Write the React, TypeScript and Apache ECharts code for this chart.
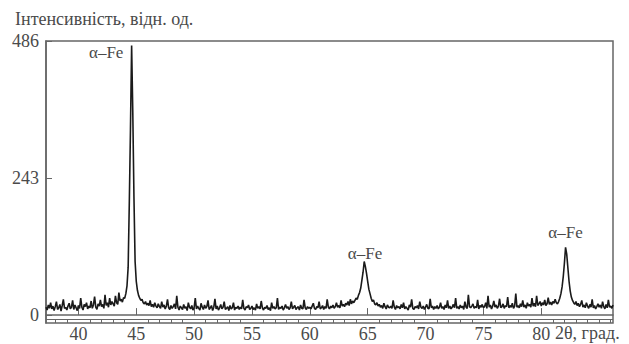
import React, { useEffect, useRef } from "react";
import * as echarts from "echarts";

const TWO_THETA_START = 37.2;
const TWO_THETA_STEP = 0.1;
const INTENSITY: number[] = [
  // 37.2 – 37.9
  14, 9, 18, 12, 22, 11, 16, 8,
  // 38
  15, 24, 10, 13, 19, 7, 17, 28, 12, 14,
  // 39
  9, 16, 21, 11, 14, 26, 10, 18, 13, 8,
  // 40
  17, 12, 30, 14, 9, 19, 15, 22, 11, 16,
  // 41
  13, 25, 12, 18, 33, 14, 10, 20, 16, 27,
  // 42
  15, 19, 12, 36, 17, 22, 14, 30, 18, 24,
  // 43
  20, 16, 34, 22, 19, 40, 25, 28, 23, 31,
  // 44
  30, 38, 52, 85, 200, 330, 478, 360, 210, 95,
  // 45
  60, 44, 35, 30, 26, 28, 22, 20, 24, 18,
  // 46
  21, 17, 26, 15, 19, 14, 22, 16, 13, 20,
  // 47
  15, 12, 24, 14, 18, 11, 16, 28, 13, 10,
  // 48
  17, 12, 15, 20, 11, 34, 14, 9, 16, 13,
  // 49
  10, 19, 12, 15, 8, 22, 14, 11, 17, 9,
  // 50
  13, 30, 11, 16, 12, 9, 21, 14, 10, 18,
  // 51
  12, 15, 26, 10, 13, 17, 8, 14, 29, 11,
  // 52
  16, 9, 13, 19, 11, 14, 24, 10, 12, 15,
  // 53
  8, 17, 11, 13, 22, 9, 14, 12, 16, 10,
  // 54
  14, 11, 27, 12, 9, 15, 13, 18, 10, 12,
  // 55
  16, 10, 13, 9, 20, 12, 15, 11, 25, 13,
  // 56
  9, 14, 12, 17, 10, 13, 8, 22, 12, 15,
  // 57
  11, 13, 30, 10, 14, 12, 16, 9, 13, 19,
  // 58
  12, 15, 10, 13, 24, 11, 14, 17, 10, 13,
  // 59
  15, 9, 18, 12, 11, 27, 13, 10, 15, 12,
  // 60
  14, 11, 16, 21, 12, 10, 15, 13, 24, 11,
  // 61
  13, 17, 10, 15, 12, 28, 14, 11, 16, 13,
  // 62
  18, 12, 15, 22, 14, 17, 13, 26, 16, 19,
  // 63
  15, 21, 18, 24, 17, 28, 20, 25, 22, 26,
  // 64
  30, 28, 35, 40, 48, 62, 76, 95, 86, 74,
  // 65
  60, 46, 38, 30, 24, 27, 20, 18, 22, 16,
  // 66
  19, 14, 17, 12, 21, 15, 11, 18, 14, 13,
  // 67
  16, 12, 26, 14, 10, 17, 13, 15, 11, 19,
  // 68
  13, 22, 11, 15, 12, 9, 18, 14, 28, 12,
  // 69
  10, 15, 13, 17, 11, 24, 14, 12, 16, 10,
  // 70
  14, 19, 12, 11, 29, 13, 16, 10, 15, 12,
  // 71
  17, 11, 14, 22, 12, 15, 10, 18, 13, 26,
  // 72
  12, 16, 11, 14, 19, 13, 30, 12, 15, 11,
  // 73
  18, 13, 16, 10, 24, 14, 12, 36, 15, 13,
  // 74
  16, 20, 12, 15, 13, 27, 11, 17, 14, 19,
  // 75
  13, 15, 22, 12, 34, 14, 18, 11, 16, 25,
  // 76
  14, 18, 12, 16, 29, 13, 15, 20, 12, 17,
  // 77
  15, 32, 13, 17, 14, 21, 12, 16, 38, 14,
  // 78
  17, 13, 20, 15, 26, 14, 18, 12, 22, 16,
  // 79
  19, 14, 30, 16, 21, 15, 34, 17, 20, 24,
  // 80
  16, 22, 18, 27, 17, 20, 31, 19, 23, 18,
  // 81
  24, 21, 28, 22, 20, 24, 30, 38, 50, 68,
  // 82
  92, 120, 108, 84, 60, 43, 32, 26, 22, 19,
  // 83
  24, 17, 21, 15, 19, 26, 14, 18, 13, 22,
  // 84
  16, 12, 19, 14, 28, 13, 17, 11, 15, 20,
  // 85
  14, 18, 12, 24, 15, 11, 19, 13, 27, 14,
  // 86.0 – 86.2
  16, 12, 18,
];

const X_TICKS = [40, 45, 50, 55, 60, 65, 70, 75, 80];
const X_MINOR_TICKS = [
  38, 39, 41, 42, 43, 44, 46, 47, 48, 49, 51, 52, 53, 54, 56, 57, 58, 59, 61,
  62, 63, 64, 66, 67, 68, 69, 71, 72, 73, 74, 76, 77, 78, 79, 81, 82, 83, 84,
  85, 86,
];
const Y_TICKS = [0, 243, 486];

const PEAK_LABEL = "α–Fe";
const PEAK_LABEL_POS: [number, number][] = [
  [42.4, 466],
  [64.77, 110],
  [82.1, 146],
];

const Y_TITLE = "Інтенсивність, відн. од.";
const X_TITLE = "2θ, град.";

const FONT = '"Liberation Serif", "DejaVu Serif", serif';
const TEXT_COLOR = "#4a4a4a";
const FRAME_COLOR = "#666";

export default function App() {
  const ref = useRef<HTMLDivElement>(null);

  useEffect(() => {
    if (!ref.current) return;
    const chart = echarts.init(ref.current, null, { renderer: "svg" });

    const data = INTENSITY.map((v, i) => [
      +(TWO_THETA_START + i * TWO_THETA_STEP).toFixed(2),
      v,
    ]);

    const xMin = 37.2;
    const xMax = 86.2;
    const yMin = -14;
    const yMax = 486;

    chart.setOption({
      animation: false,
      backgroundColor: "#fff",
      textStyle: { fontFamily: FONT },
      title: {
        text: Y_TITLE,
        left: 10,
        top: 5,
        textStyle: {
          fontFamily: FONT,
          fontSize: 18,
          fontWeight: "normal",
          color: TEXT_COLOR,
        },
      },
      graphic: [
        {
          type: "text",
          left: 555,
          top: 324,
          style: {
            text: X_TITLE,
            fontFamily: FONT,
            fontSize: 18,
            fill: TEXT_COLOR,
          },
        },
      ],
      grid: {
        left: 46,
        right: 16,
        top: 41,
        bottom: 21,
        show: true,
        borderColor: FRAME_COLOR,
        borderWidth: 1.5,
        backgroundColor: "transparent",
      },
      xAxis: [
        {
          type: "value",
          min: xMin,
          max: xMax,
          axisLine: { show: true, lineStyle: { color: FRAME_COLOR, width: 1.5 } },
          axisTick: {
            show: true,
            inside: true,
            length: 7,
            customValues: X_TICKS,
            lineStyle: { color: FRAME_COLOR, width: 1 },
          },
          axisLabel: {
            customValues: X_TICKS,
            margin: 2,
            fontFamily: FONT,
            fontSize: 18,
            color: TEXT_COLOR,
          },
          splitLine: { show: false },
        },
        {
          type: "value",
          min: xMin,
          max: xMax,
          position: "bottom",
          axisLine: { show: false },
          axisTick: {
            show: true,
            inside: true,
            length: 3,
            customValues: X_MINOR_TICKS,
            lineStyle: { color: FRAME_COLOR, width: 1 },
          },
          axisLabel: { show: false },
          splitLine: { show: false },
        },
      ],
      yAxis: {
        type: "value",
        min: yMin,
        max: yMax,
        axisLine: { show: true, lineStyle: { color: FRAME_COLOR, width: 1.5 } },
        axisTick: {
          show: true,
          inside: true,
          length: 6,
          customValues: Y_TICKS,
          lineStyle: { color: FRAME_COLOR, width: 1 },
        },
        axisLabel: {
          customValues: Y_TICKS,
          margin: 7,
          fontFamily: FONT,
          fontSize: 18,
          color: TEXT_COLOR,
        },
        splitLine: { show: false },
      },
      series: [
        {
          type: "line",
          data,
          showSymbol: false,
          symbol: "none",
          lineStyle: { color: "#1a1a1a", width: 1.6 },
          z: 3,
          markLine: {
            silent: true,
            symbol: "none",
            label: { show: false },
            lineStyle: { color: FRAME_COLOR, width: 1, type: "solid" },
            data: [{ yAxis: -7 }],
          },
          markPoint: {
            silent: true,
            symbol: "circle",
            symbolSize: 1,
            itemStyle: { color: "transparent" },
            label: {
              show: true,
              position: "inside",
              formatter: PEAK_LABEL,
              fontFamily: FONT,
              fontSize: 17,
              color: TEXT_COLOR,
            },
            data: PEAK_LABEL_POS.map((c) => ({ coord: c })),
          },
        },
      ],
    });

    return () => chart.dispose();
  }, []);

  return (
    <div
      ref={ref}
      style={{ position: "fixed", left: 0, top: 0, width: 629, height: 344 }}
    />
  );
}
